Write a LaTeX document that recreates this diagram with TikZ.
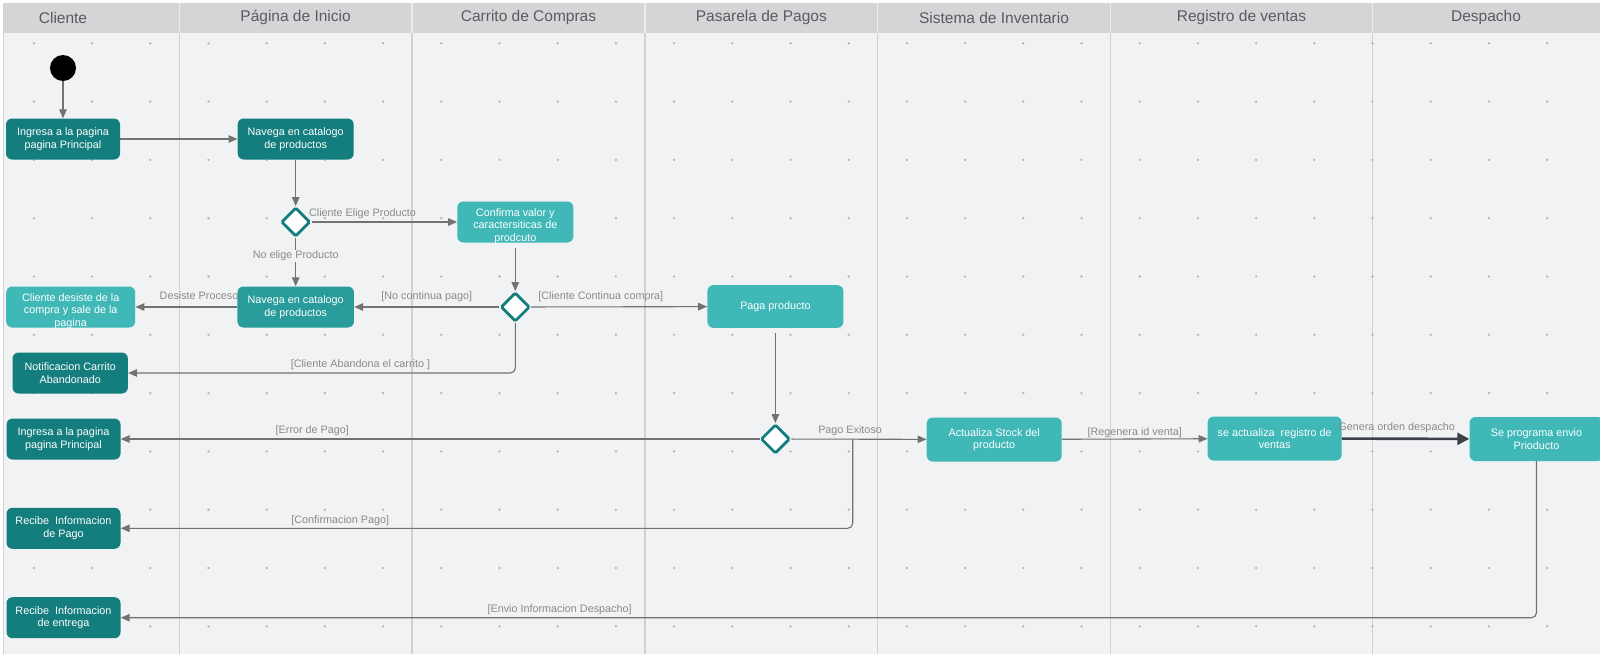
\documentclass[tikz,border=0pt]{standalone}
\usepackage{fontspec}
\setmainfont{Liberation Sans}
\usetikzlibrary{arrows.meta,shapes.geometric}

\definecolor{fondo}{HTML}{F1F2F4}
\definecolor{cabecera}{HTML}{D4D5D7}
\definecolor{carril}{HTML}{D0D1D3}
\definecolor{punto}{HTML}{B3B5B8}
\definecolor{tealoscuro}{HTML}{137E7D}
\definecolor{tealmedio}{HTML}{289C9A}
\definecolor{tealclaro}{HTML}{40B8B8}
\definecolor{flecha}{HTML}{727272}
\definecolor{etiqueta}{HTML}{8A8A8A}
\definecolor{titulo}{HTML}{595B5E}
\definecolor{gruesa}{HTML}{3B4049}

\begin{document}
\begin{tikzpicture}[x=1pt,y=-1pt,
    actividad/.style={rounded corners=6pt, text=white, align=center, inner sep=0pt,
      font=\fontsize{10.8}{12.6}\selectfont, minimum height=41pt},
    oscuro/.style={actividad, fill=tealoscuro},
    medio/.style={actividad, fill=tealmedio},
    claro/.style={actividad, fill=tealclaro},
    textonodo/.style={text=white, align=center, inner sep=0pt, font=\fontsize{10.8}{12.6}\selectfont},
    decision/.style={diamond, draw=tealoscuro, line width=2.8pt, fill=white,
      minimum width=29pt, minimum height=29pt, inner sep=0pt, rounded corners=1.5pt},
    flujo/.style={draw=flecha, line width=1.1pt, -{Triangle[length=9pt,width=7.5pt]}},
    flujogrueso/.style={draw=gruesa, line width=2.6pt, -{Triangle[length=12pt,width=12pt]}},
    guarda/.style={font=\fontsize{10.8}{12.6}\selectfont, text=etiqueta, inner sep=0pt,
      text height=7.8pt, text depth=2.2pt},
    carriltxt/.style={font=\fontsize{15.5}{18}\selectfont, text=titulo}
  ]
  \clip (0,0) rectangle (1600,654);

  % Fondo y carriles
  \fill[fondo] (0,0) rectangle (1600,654);
  \fill[cabecera] (3.5,3) rectangle (1600,32.5);
  \fill[white] (0,0) rectangle (1600,3);
  \fill[white] (0,0) rectangle (3,654);
  \draw[carril] (3.6,3) -- (3.6,654);
  \foreach \x in {179.3,412,645,877.6,1110.5,1372.4} {
    \draw[white!55!cabecera, line width=1.2pt] (\x,3) -- (\x,32.5);
    \draw[carril, line width=1.1pt] (\x,32.5) -- (\x,654);
  }
  \foreach \i in {0,...,26} {
    \foreach \j in {0,...,10} {
      \fill[punto] ({33.9+58.2*\i},{43.3+58.3*\j}) circle (1.3);
    }
  }

  \node[carriltxt] (hCliente) at (63,17.5) {Cliente};
  \node[carriltxt] (hInicio) at (295.6,17.5) {Página de Inicio};
  \node[carriltxt] (hCarrito) at (528.5,17.5) {Carrito de Compras};
  \node[carriltxt] (hPasarela) at (761.3,17.5) {Pasarela de Pagos};
  \node[carriltxt] (hInventario) at (994,17.5) {Sistema de Inventario};
  \node[carriltxt] (hRegistro) at (1241.5,17.5) {Registro de ventas};
  \node[carriltxt] (hDespacho) at (1486,17.5) {Despacho};

  % Actividades
  \node[circle, fill=black, minimum size=26pt, inner sep=0pt] (inicio) at (63,68) {};
  \node[oscuro, minimum width=114pt] (ingresa) at (63,139) {Ingresa a la pagina\\pagina Principal};
  \node[oscuro, minimum width=116pt] (navega) at (295.7,139) {Navega en catalogo\\de productos};
  \node[decision] (elige) at (295.7,222) {};
  \node[claro, minimum width=116pt] (confirma) at (515.3,222) {};
  \node[textonodo] (confirmaTxt) at ([yshift=-4pt]confirma.center) {Confirma valor y\\caractersiticas de\\prodcuto};
  \node[claro, minimum width=129pt] (desiste) at (70.7,307) {};
  \node[textonodo] (desisteTxt) at ([yshift=-4pt]desiste.center) {Cliente desiste de la\\compra y sale de la\\pagina};
  \node[medio, minimum width=116.5pt] (navegaOtra) at (295.7,307) {Navega en catalogo\\de productos};
  \node[decision] (continua) at (515.3,307) {};
  \node[oscuro, minimum width=115.4pt] (abandono) at (70.2,373) {Notificacion Carrito\\Abandonado};
  \node[claro, minimum width=136pt, minimum height=42.7pt] (paga) at (775.4,306.5) {Paga producto};
  \node[decision] (pago) at (775.4,439) {};
  \node[oscuro, minimum width=114pt] (reingresa) at (63.5,439) {Ingresa a la pagina\\pagina Principal};
  \node[oscuro, minimum width=114pt] (infoPago) at (63.5,528.3) {Recibe~ Informacion\\de Pago};
  \node[oscuro, minimum width=114pt] (infoEntrega) at (63.5,617.7) {Recibe~ Informacion\\de entrega};
  \node[claro, minimum width=135pt, minimum height=44pt] (stock) at (994.2,439.5) {Actualiza Stock del\\producto};
  \node[claro, minimum width=134pt, minimum height=44pt] (registro) at (1274.7,438.5) {se actualiza~ registro de\\ventas};
  \node[claro, minimum width=134pt, minimum height=44pt] (envio) at (1536.5,439) {Se programa envio\\Prioducto};
  \coordinate (bifurca) at (852.7,439);

  % Flujos
  \draw[flujo] (inicio) -- (ingresa);
  \draw[flujo] (ingresa) -- (navega);
  \draw[flujo] (navega) -- (elige);
  \draw[flujo] (elige) -- node[guarda, above=2.5pt, pos=0.35] (gElige) {Cliente Elige Producto} (confirma);
  \draw[flujo] (elige) -- node[guarda, fill=fondo, inner sep=1pt, pos=0.37] (gNoElige) {No elige Producto} (navegaOtra);
  \draw[flujo, shorten <=5pt] (confirma) -- (continua);
  \draw[flujo] (continua) -- node[guarda, above=4.5pt] (gNoContinua) {[No continua pago]} (navegaOtra);
  \draw[flujo] (navegaOtra) -- node[guarda, above=5pt, pos=0.375] (gDesiste) {Desiste Proceso} (desiste);
  \draw[flujo, rounded corners=5pt] (continua) |- node[guarda, above=2.5pt, pos=0.7] (gAbandona) {[Cliente Abandona el carrito ]} (abandono);
  \draw[flujo] (continua) -- node[guarda, above=5pt, pos=0.395] (gContinua) {[Cliente Continua compra]} (paga);
  \draw[flujo, shorten <=5pt] (paga) -- (pago);
  \draw[flujo] (pago) -- node[guarda, above=2.5pt, pos=0.7] (gError) {[Error de Pago]} (reingresa);
  \draw[flujo] (pago) -- node[guarda, above=2.5pt, pos=0.435] (gExito) {Pago Exitoso} (stock);
  \draw[flujo, rounded corners=5pt] (bifurca) |- node[guarda, above=2.5pt, pos=0.85] (gConfirma) {[Confirmacion Pago]} (infoPago);
  \draw[flujo] (stock) -- node[guarda, above=0.5pt] (gRegenera) {[Regenera id venta]} (registro);
  \draw[flujogrueso] (registro) -- node[guarda, above=5pt, pos=0.43] (gOrden) {Genera orden despacho} (envio);
  \draw[flujo, rounded corners=5pt] (envio) |- node[guarda, above=2.5pt, pos=0.845] (gEnvio) {[Envio Informacion Despacho]} (infoEntrega);
\end{tikzpicture}
\end{document}
